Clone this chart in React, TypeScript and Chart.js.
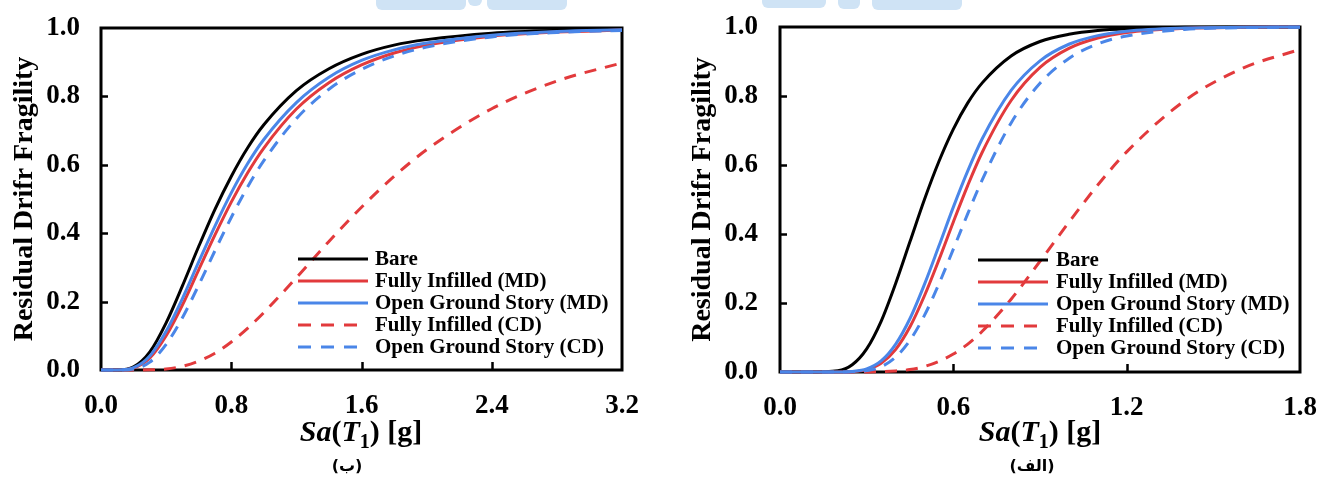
import React, { useEffect, useRef } from "react";
import { Chart, registerables } from "chart.js";

Chart.register(...registerables);

// ---------- DATA ----------
const seriesNames = [
  "Bare",
  "Fully Infilled (MD)",
  "Open Ground Story (MD)",
  "Fully Infilled (CD)",
  "Open Ground Story (CD)",
];

const yTicks = [0, 0.2, 0.4, 0.6, 0.8, 1.0];

// Panel (ب) – left
const leftSa = [0, 0.1, 0.2, 0.3, 0.4, 0.5, 0.6, 0.7, 0.8, 0.9, 1.0, 1.2, 1.4, 1.6, 1.8, 2.0, 2.4, 2.8, 3.2];
const leftBare = [0, 0, 0.009, 0.053, 0.138, 0.246, 0.361, 0.47, 0.566, 0.649, 0.717, 0.817, 0.881, 0.923, 0.95, 0.966, 0.985, 0.993, 0.996];
const leftFullyMD = [0, 0, 0.0055, 0.035, 0.1, 0.19, 0.293, 0.395, 0.491, 0.576, 0.649, 0.763, 0.84, 0.892, 0.927, 0.95, 0.976, 0.988, 0.994];
const leftOpenMD = [0, 0, 0.0067, 0.041, 0.113, 0.209, 0.316, 0.421, 0.518, 0.603, 0.674, 0.782, 0.856, 0.905, 0.936, 0.956, 0.979, 0.99, 0.995];
const leftFullyCD = [0, 0, 0, 0.0005, 0.003, 0.011, 0.026, 0.049, 0.082, 0.122, 0.168, 0.27, 0.376, 0.476, 0.566, 0.644, 0.764, 0.845, 0.898];
const leftOpenCD = [0, 0, 0.003, 0.023, 0.075, 0.153, 0.248, 0.349, 0.446, 0.535, 0.612, 0.735, 0.821, 0.879, 0.918, 0.944, 0.974, 0.987, 0.993];
const leftXTicks = [0, 0.8, 1.6, 2.4, 3.2];

// Panel (الف) – right
const rightSa = [0, 0.1, 0.2, 0.25, 0.3, 0.35, 0.4, 0.45, 0.5, 0.55, 0.6, 0.65, 0.7, 0.8, 0.9, 1.0, 1.1, 1.2, 1.4, 1.6, 1.8];
const rightBare = [0, 0, 0.0036, 0.021, 0.067, 0.147, 0.256, 0.378, 0.5, 0.61, 0.704, 0.78, 0.838, 0.916, 0.958, 0.979, 0.99, 0.995, 0.999, 1, 1];
const rightFullyMD = [0, 0, 0, 0.001, 0.007, 0.025, 0.065, 0.131, 0.221, 0.325, 0.435, 0.541, 0.637, 0.787, 0.883, 0.938, 0.968, 0.984, 0.996, 0.999, 1];
const rightOpenMD = [0, 0, 0, 0.0015, 0.009, 0.032, 0.08, 0.155, 0.254, 0.365, 0.478, 0.583, 0.676, 0.816, 0.902, 0.95, 0.975, 0.988, 0.997, 0.999, 1];
const rightFullyCD = [0, 0, 0, 0, 0.0002, 0.0008, 0.003, 0.007, 0.016, 0.031, 0.052, 0.081, 0.118, 0.211, 0.321, 0.434, 0.542, 0.638, 0.786, 0.88, 0.935];
const rightOpenCD = [0, 0, 0, 0.0005, 0.004, 0.015, 0.043, 0.092, 0.164, 0.255, 0.356, 0.459, 0.557, 0.722, 0.837, 0.909, 0.951, 0.974, 0.993, 0.998, 0.9995];
const rightXTicks = [0, 0.6, 1.2, 1.8];

// ---------- STYLES ----------
const BLACK = "#000000";
const RED = "#e23a3c";
const BLUE = "#4a86e8";
const seriesColors = [BLACK, RED, BLUE, RED, BLUE];
const seriesDashed = [false, false, false, true, true];
const seriesOrder = [3, 2, 1, 4, 0]; // lower = drawn on top
const SERIF = '"Liberation Serif", "Times New Roman", serif';

type PanelProps = {
  left: number;
  width: number;
  height: number;
  area: { left: number; right: number; top: number; bottom: number };
  sa: number[];
  values: number[][];
  xTicks: number[];
  xMax: number;
  titlePad: number;
  yLabelPad: number;
  legend: { x: number; y: number; step: number; textGap: number };
};

const framePlugin = {
  id: "frame",
  beforeDatasetsDraw(chart: any, _args: any, opts: any) {
    const { ctx, chartArea: a, scales } = chart;
    ctx.save();
    ctx.strokeStyle = "#000";
    ctx.lineWidth = 3;
    ctx.strokeRect(a.left, a.top, a.right - a.left, a.bottom - a.top);
    ctx.lineWidth = 2.5;
    ctx.beginPath();
    for (const v of opts.yTicks as number[]) {
      if (v <= 0 || v >= 1) continue;
      const py = Math.round(scales.y.getPixelForValue(v)) + 0.5;
      ctx.moveTo(a.left, py);
      ctx.lineTo(a.left + 7, py);
    }
    for (const v of opts.xTicks as number[]) {
      if (v <= 0 || v >= opts.xMax) continue;
      const px = Math.round(scales.x.getPixelForValue(v)) + 0.5;
      ctx.moveTo(px, a.bottom);
      ctx.lineTo(px, a.bottom - 8);
    }
    ctx.stroke();
    ctx.restore();
  },
  afterDraw(chart: any, _args: any, opts: any) {
    const { ctx } = chart;
    const lg = opts.legend;
    ctx.save();
    ctx.font = `bold 21px ${SERIF}`;
    ctx.textBaseline = "middle";
    ctx.textAlign = "left";
    seriesNames.forEach((name, i) => {
      const y = lg.y + i * lg.step;
      ctx.beginPath();
      ctx.strokeStyle = seriesColors[i];
      ctx.lineWidth = 3;
      if (seriesDashed[i]) {
        ctx.setLineDash([13, 10]);
        ctx.moveTo(lg.x, y);
        ctx.lineTo(lg.x + 60, y);
      } else {
        ctx.setLineDash([]);
        ctx.moveTo(lg.x, y);
        ctx.lineTo(lg.x + 70, y);
      }
      ctx.stroke();
      ctx.setLineDash([]);
      ctx.fillStyle = "#000";
      ctx.fillText(name, lg.x + lg.textGap, y + 1);
    });
    ctx.restore();
  },
};

function noPadding(s: any) {
  s.paddingTop = 0;
  s.paddingBottom = 0;
  s.paddingLeft = 0;
  s.paddingRight = 0;
}

function Panel(p: PanelProps) {
  const ref = useRef<HTMLCanvasElement | null>(null);
  useEffect(() => {
    if (!ref.current) return;
    const datasets = p.values.map((vals, i) => ({
      label: seriesNames[i],
      data: p.sa.map((x, j) => ({ x, y: vals[j] })),
      borderColor: seriesColors[i],
      backgroundColor: seriesColors[i],
      borderWidth: 3,
      borderDash: seriesDashed[i] ? [12, 9] : [],
      pointRadius: 0,
      cubicInterpolationMode: "monotone" as const,
      fill: false,
      clip: 6,
      order: seriesOrder[i],
    }));
    const chart = new Chart(ref.current, {
      type: "line",
      data: { datasets },
      plugins: [framePlugin],
      options: {
        animation: false,
        responsive: false,
        events: [],
        layout: {
          padding: {
            left: 0,
            top: p.area.top,
            right: p.width - p.area.right,
            bottom: 0,
          },
        },
        plugins: {
          legend: { display: false },
          tooltip: { enabled: false },
          frame: { yTicks, xTicks: p.xTicks, xMax: p.xMax, legend: p.legend },
        } as any,
        scales: {
          x: {
            type: "linear",
            min: 0,
            max: p.xMax,
            afterBuildTicks: (s: any) => {
              s.ticks = p.xTicks.map((v) => ({ value: v }));
            },
            afterFit: (s: any) => {
              s.height = p.height - p.area.bottom;
              noPadding(s);
            },
            grid: { display: false, drawTicks: false },
            border: { display: false },
            ticks: {
              color: "#000",
              padding: 20,
              maxRotation: 0,
              autoSkip: false,
              font: { family: SERIF, size: 27, weight: "bold" },
              callback: (v: any) => Number(v).toFixed(1),
            },
          },
          y: {
            type: "linear",
            min: 0,
            max: 1,
            afterBuildTicks: (s: any) => {
              s.ticks = yTicks.map((v) => ({ value: v }));
            },
            afterFit: (s: any) => {
              s.width = p.area.left;
              noPadding(s);
            },
            grid: { display: false, drawTicks: false },
            border: { display: false },
            ticks: {
              color: "#000",
              padding: p.yLabelPad,
              autoSkip: false,
              font: { family: SERIF, size: 27, weight: "bold" },
              callback: (v: any) => Number(v).toFixed(1),
            },
            title: {
              display: true,
              text: "Residual Drifr Fragility",
              color: "#000",
              font: { family: SERIF, size: 28, weight: "bold" },
              padding: { top: p.titlePad, bottom: 0 },
            },
          },
        },
      },
    });
    return () => chart.destroy();
  }, []);
  return (
    <canvas
      ref={ref}
      width={p.width}
      height={p.height}
      style={{ position: "absolute", left: p.left, top: 0, width: p.width, height: p.height }}
    />
  );
}

function XTitle({ cx }: { cx: number }) {
  return (
    <div
      style={{
        position: "absolute",
        left: cx - 150,
        width: 300,
        top: 415,
        textAlign: "center",
        font: `bold 30px ${SERIF}`,
        lineHeight: "32px",
        color: "#000",
        whiteSpace: "nowrap",
      }}
    >
      <i>Sa</i>(<i>T</i>
      <span style={{ fontSize: 20, position: "relative", top: 7 }}>1</span>) [g]
    </div>
  );
}

function Caption({ cx, text }: { cx: number; text: string }) {
  return (
    <div
      dir="rtl"
      style={{
        position: "absolute",
        left: cx - 50,
        width: 100,
        top: 456,
        textAlign: "center",
        font: 'bold 16px "DejaVu Sans", sans-serif',
        lineHeight: "20px",
        color: "#000",
      }}
    >
      {text}
    </div>
  );
}

const WM = "#cfe3f5";
function Blob({ x, w, h }: { x: number; w: number; h: number }) {
  return (
    <div
      style={{
        position: "absolute",
        left: x,
        top: 0,
        width: w,
        height: h,
        background: WM,
        borderRadius: "0 0 6px 6px",
      }}
    />
  );
}

export default function App() {
  return (
    <div
      style={{
        position: "absolute",
        left: 0,
        top: 0,
        width: 1320,
        height: 479,
        background: "#fff",
        overflow: "hidden",
      }}
    >
      <Blob x={376} w={90} h={10} />
      <Blob x={468} w={14} h={6} />
      <Blob x={487} w={80} h={10} />
      <Blob x={762} w={64} h={8} />
      <Blob x={838} w={22} h={9} />
      <Blob x={872} w={90} h={10} />
      <Panel
        left={0}
        width={650}
        height={479}
        area={{ left: 101, right: 622, top: 28, bottom: 370 }}
        sa={leftSa}
        values={[leftBare, leftFullyMD, leftOpenMD, leftFullyCD, leftOpenCD]}
        xTicks={leftXTicks}
        xMax={3.2}
        titlePad={8}
        yLabelPad={21}
        legend={{ x: 298, y: 259, step: 22, textGap: 77 }}
      />
      <Panel
        left={660}
        width={660}
        height={479}
        area={{ left: 120, right: 640, top: 27, bottom: 372 }}
        sa={rightSa}
        values={[rightBare, rightFullyMD, rightOpenMD, rightFullyCD, rightOpenCD]}
        xTicks={rightXTicks}
        xMax={1.8}
        titlePad={26}
        yLabelPad={22}
        legend={{ x: 318, y: 260, step: 22, textGap: 78 }}
      />
      <XTitle cx={361} />
      <XTitle cx={1040} />
      <Caption cx={347} text="(ب)" />
      <Caption cx={1032} text="(الف)" />
    </div>
  );
}
